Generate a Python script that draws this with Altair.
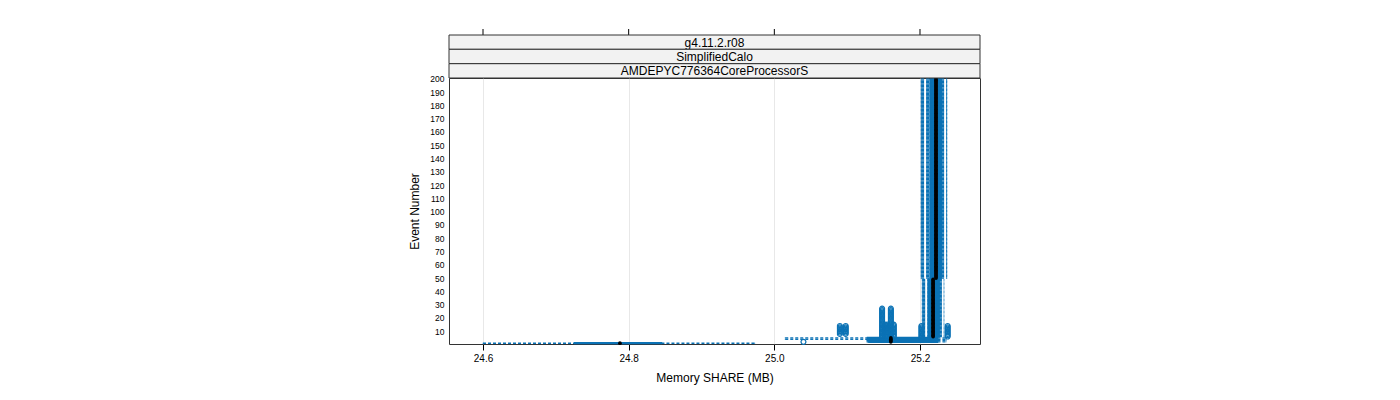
import altair as alt
import pandas as pd

# ---- data -----------------------------------------------------------------
# box statistics, given for runs of event numbers that share the same values
grp_first = [1, 2, 4, 6, 50]
grp_last = [1, 3, 5, 49, 200]
grp_lo = [24.600, 25.127, 25.015, 25.203, 25.2015]
grp_q1 = [24.726, 25.130, 25.128, 25.212, 25.214]
grp_med = [24.788, 25.160, 25.160, 25.218, 25.222]
grp_q3 = [24.845, 25.224, 25.224, 25.226, 25.229]
grp_hi = [24.973, 25.236, 25.236, 25.233, 25.237]

# outliers (open circles), given for runs of event numbers
out_first = [2, 8, 8, 5, 5, 6, 6, 6, 4, 6]
out_last = [2, 14, 14, 27, 27, 15, 15, 15, 14, 14]
out_value = [25.040, 25.090, 25.098, 25.148, 25.160, 25.152, 25.155, 25.164, 25.202, 25.238]

x_ticks = [24.6, 24.8, 25.0, 25.2]
y_ticks = list(range(10, 201, 10))
strip_labels = ["g4.11.2.r08", "SimplifiedCalo", "AMDEPYC776364CoreProcessorS"]

# ---- tables -----------------------------------------------------------------
rows = []
for f, l, lo, q1, md, q3, hi in zip(grp_first, grp_last, grp_lo, grp_q1, grp_med, grp_q3, grp_hi):
    for ev in range(f, l + 1):
        rows.append(dict(event=ev, ylo=ev - 0.25, yhi=ev + 0.25,
                         lo=lo, q1=q1, med=md, q3=q3, hi=hi))
box = pd.DataFrame(rows)

orows = []
for f, l, v in zip(out_first, out_last, out_value):
    for ev in range(f, l + 1):
        orows.append(dict(event=ev, value=v))
outl = pd.DataFrame(orows)

W, H = 531, 266
BLUE = "#0b72b5"
FONT = "Liberation Sans"

xscale = alt.Scale(domain=[24.5533, 25.2824], nice=False, zero=False)
yscale = alt.Scale(domain=[0.4, 200.6], nice=False, zero=False)

xaxis = alt.Axis(values=x_ticks, format=".1f", title="Memory SHARE (MB)",
                 grid=True, gridColor="#e8e8e8", domain=False,
                 tickSize=6, tickColor="#000", labelFontSize=10, labelPadding=3,
                 labelFont=FONT, titleFont=FONT, titleFontSize=12,
                 titleFontWeight="normal", titlePadding=9, labelColor="#000", titleColor="#000")
yaxis = alt.Axis(values=y_ticks, format="d", title="Event Number", grid=False, domain=False,
                 ticks=False, labelFontSize=8.5, labelPadding=5, labelFont=FONT,
                 labelOverlap=False, labelBound=False, labelFlush=False,
                 titleFont=FONT, titleFontSize=12, titleFontWeight="normal",
                 titlePadding=8, labelColor="#000", titleColor="#000")


def X(f):
    return alt.X(f, scale=xscale, axis=xaxis)


def Y(f):
    return alt.Y(f, scale=yscale, axis=yaxis)


base = alt.Chart(box)

wl = base.mark_rule(color=BLUE, strokeWidth=1.4, strokeDash=[3, 2]).encode(
    x=X("lo:Q"), x2="q1:Q", y=Y("event:Q"))
wr = base.mark_rule(color=BLUE, strokeWidth=1.4, strokeDash=[3, 2]).encode(
    x=X("q3:Q"), x2="hi:Q", y=Y("event:Q"))
capl = base.mark_rule(color=BLUE, strokeWidth=1).encode(
    x=X("lo:Q"), y=Y("ylo:Q"), y2="yhi:Q")
capr = base.mark_rule(color=BLUE, strokeWidth=1).encode(
    x=X("hi:Q"), y=Y("ylo:Q"), y2="yhi:Q")
rect = base.mark_rect(fillOpacity=0, stroke=BLUE, strokeWidth=1.6).encode(
    x=X("q1:Q"), x2="q3:Q", y=Y("ylo:Q"), y2="yhi:Q")
pts = alt.Chart(outl).mark_point(shape="circle", filled=False, size=24,
                                 color=BLUE, strokeWidth=1.2, opacity=1).encode(
    x=X("value:Q"), y=Y("event:Q"))
med = base.mark_circle(color="#000", size=14, opacity=1).encode(
    x=X("med:Q"), y=Y("event:Q"))

# top tick marks above the strips
topticks = alt.Chart(pd.DataFrame({"t": x_ticks})).mark_rule(color="#000").encode(
    x=X("t:Q"), y=alt.value(-49), y2=alt.value(-43))

# strips
strip_layers = []
tops = [-43, -28.7, -14.3]
for i, lab in enumerate(strip_labels):
    d = pd.DataFrame({"label": [lab]})
    t = tops[i]
    b = t + 14.3
    strip_layers.append(alt.Chart(d).mark_rect(fill="#f2f2f2", stroke="#333", strokeWidth=1).encode(
        x=alt.value(0), x2=alt.value(W), y=alt.value(t), y2=alt.value(b)))
    strip_layers.append(alt.Chart(d).mark_text(font=FONT, fontSize=12, color="#000",
                                               baseline="middle", align="center").encode(
        x=alt.value(W / 2), y=alt.value((t + b) / 2 + 0.5), text="label:N"))

chart = alt.layer(wl, wr, capl, capr, rect, pts, med, topticks, *strip_layers).properties(
    width=W, height=H,
    autosize=alt.AutoSizeParams(type="none"),
    padding={"left": 449, "top": 78, "right": 420, "bottom": 56},
).configure_view(stroke="#333", strokeWidth=1).configure_axisY(labelOverlap=False)

chart.save("out.html", embed_options={"renderer": "svg", "actions": False})
